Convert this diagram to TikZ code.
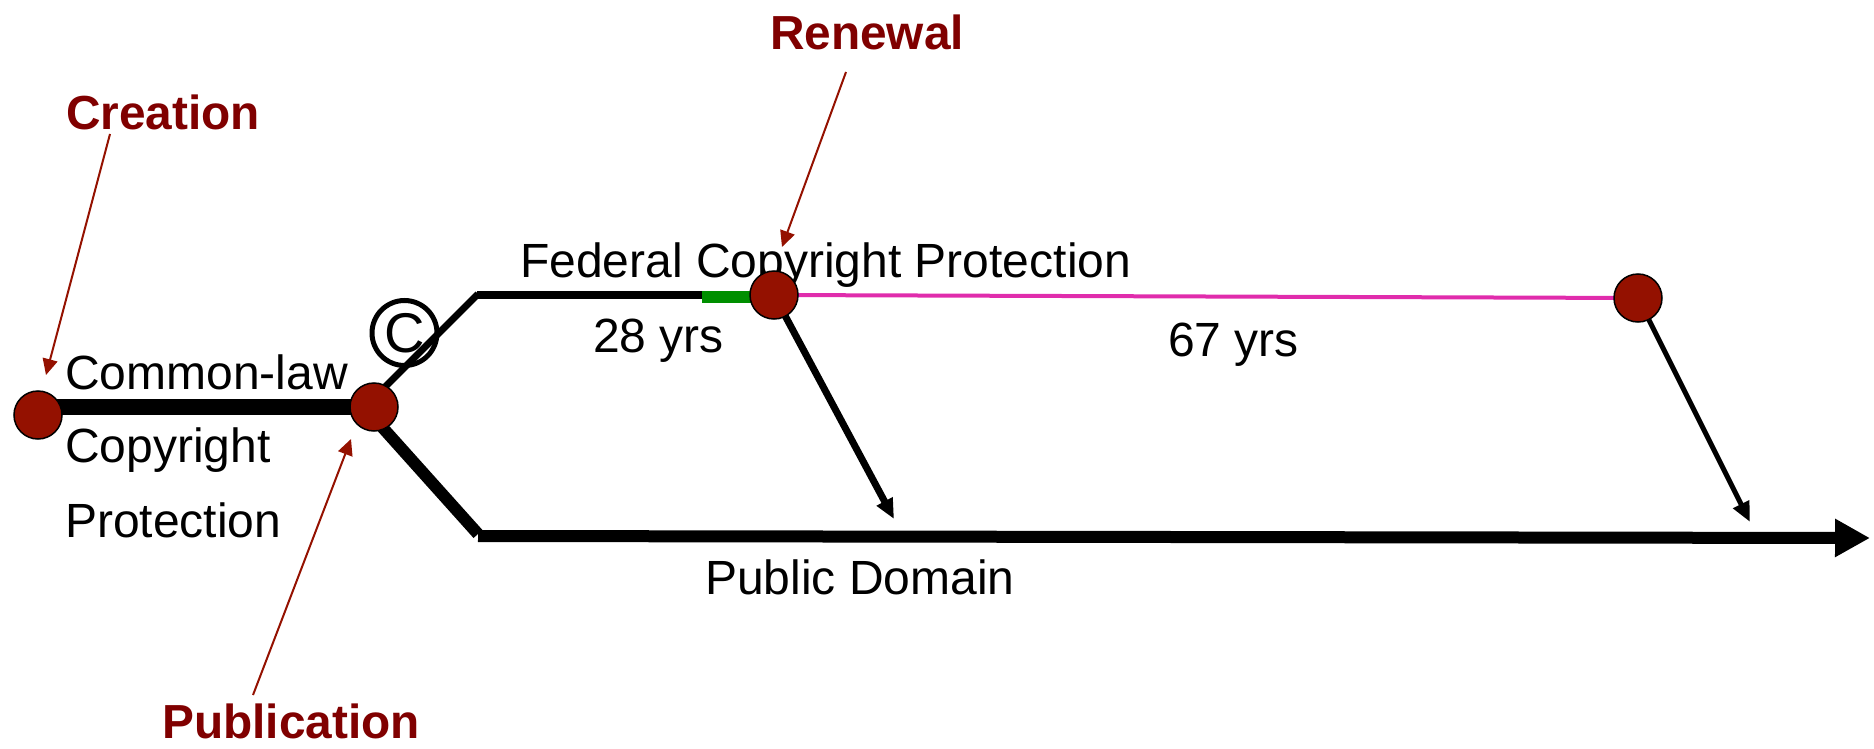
\documentclass[tikz,border=0pt]{standalone}
\usepackage{fontspec}
\setmainfont{Liberation Sans}
\usetikzlibrary{arrows.meta}
\definecolor{dotred}{RGB}{148,17,0}
\definecolor{labred}{RGB}{128,0,0}
\definecolor{grn}{RGB}{0,143,0}
\definecolor{pnk}{RGB}{224,44,172}
\tikzset{
  dot/.style={circle,draw=black,fill=dotred,line width=1.5pt,minimum size=48pt,inner sep=0pt},
  txt/.style={font=\fontsize{48}{58}\selectfont,inner sep=0pt,anchor=base west,text=black},
  lab/.style={font=\fontsize{47.8}{58}\bfseries\selectfont,inner sep=0pt,anchor=base,text=labred},
  redarrow/.style={draw=dotred,line width=2pt,-{Triangle[length=16pt,width=15pt,fill=dotred]}},
}
\begin{document}
\begin{tikzpicture}[x=1pt,y=-1pt]
\useasboundingbox (0,0) rectangle (1874,749);
% coordinates
\coordinate (line0) at (50,407);
\coordinate (upk) at (478,294);
\coordinate (ups) at (374,398);
\coordinate (upe) at (702,295);
\coordinate (lows) at (374,418);
\coordinate (lowk) at (478,534);
\coordinate (lowstart) at (478,536);
\coordinate (lowend) at (1870,538);
\coordinate (tip3) at (894,519);
\coordinate (tip4) at (1750,522);
\coordinate (st1) at (110,134);
\coordinate (t1) at (46,375);
\coordinate (st2) at (253,695);
\coordinate (t2) at (351,439);
\coordinate (st3) at (846,72);
\coordinate (t3) at (782,247);
\coordinate (c2c) at (374,407);
\coordinate (c3c) at (774,295);
\coordinate (c4c) at (1638,298);
% texts under the dots
\node[txt] (tfed) at (520,277) {Federal Copyright Protection};
\node[txt] (t28) at (593,352) {28 yrs};
\node[txt] (t67) at (1168,356) {67 yrs};
\node[txt] (tcl) at (65,389) {Common-law};
\node[txt] (tcp) at (65,462) {Copyright};
\node[txt] (tpr) at (65,537) {Protection};
\node[txt] (tpd) at (705,594) {Public Domain};
\node[lab] (lcr) at (163,130) {Creation};
\node[lab] (lre) at (867,50) {Renewal};
\node[lab] (lpu) at (291,738) {Publication};
% lines
\draw[line width=16pt] (line0) -- (c2c);
\draw[line width=7pt] (ups) -- (upk);
\draw[line width=8pt] (477,295) -- (upe);
\draw[line width=12pt] (lows) -- (lowk);
\draw[draw=grn,line width=12pt] (upe |- 0,297) -- (c3c |- 0,297);
\draw[draw=pnk,line width=4pt] (c3c) -- (c4c);
\draw[line width=12pt,-{Triangle[length=35pt,width=36pt,fill=black]}] (lowstart) -- (lowend);
\draw[line width=7pt,-{Triangle[length=20pt,width=17pt,fill=black]}] (c3c) -- (tip3);
\draw[line width=5pt,-{Triangle[length=20pt,width=17pt,fill=black]}] (c4c) -- (tip4);
\draw[redarrow] (st1) -- (t1);
\draw[redarrow] (st2) -- (t2);
\draw[redarrow] (st3) -- (t3);
% copyright mark, over its line
\node[circle,draw=black,line width=5pt,minimum size=65pt,inner sep=0pt,font=\fontsize{56}{66}\selectfont] (cmark) at (404.5,333) {C};
% dots
\node[dot] (c1) at (38,415) {};
\node[dot] (c2) at (c2c) {};
\node[dot] (c3) at (c3c) {};
\node[dot] (c4) at (c4c) {};
\end{tikzpicture}
\end{document}
